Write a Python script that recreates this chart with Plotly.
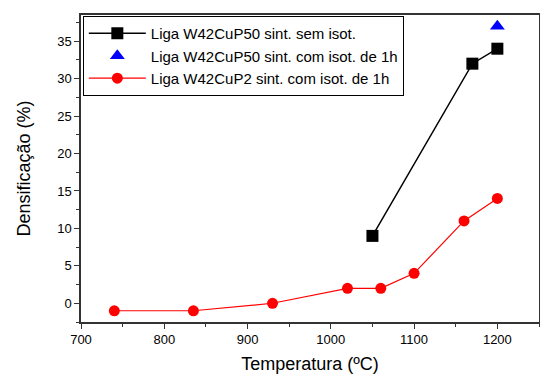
import plotly.graph_objects as go

# Data
black_x = [1050, 1170, 1200]
black_y = [9, 32, 34]
blue_x = [1200]
blue_y = [37]
red_x = [740, 835, 930, 1020, 1060, 1100, 1160, 1200]
red_y = [-1, -1, 0, 2, 2, 4, 11, 14]

names = ["Liga W42CuP50 sint. sem isot.",
         "Liga W42CuP50 sint. com isot. de 1h",
         "Liga W42CuP2 sint. com isot. de 1h"]

x_ticks = [700, 800, 900, 1000, 1100, 1200]
y_ticks = [0, 5, 10, 15, 20, 25, 30, 35]

font = "Liberation Sans, Arial, sans-serif"

fig = go.Figure()
fig.add_trace(go.Scatter(x=black_x, y=black_y, mode="lines+markers", name=names[0],
                         line=dict(color="black", width=1.5),
                         marker=dict(symbol="square", size=12, color="black")))
fig.add_trace(go.Scatter(x=blue_x, y=blue_y, mode="markers", name=names[1],
                         marker=dict(symbol="triangle-up", size=13, color="blue")))
fig.add_trace(go.Scatter(x=red_x, y=red_y, mode="lines+markers", name=names[2],
                         line=dict(color="red", width=1.2),
                         marker=dict(symbol="circle", size=11, color="red")))

axis_common = dict(showgrid=False, zeroline=False, showline=True, linecolor="#333",
                   linewidth=1.5, mirror=True, ticks="outside", ticklen=5,
                   tickwidth=1.2, tickcolor="#333", automargin=False,
                   tickfont=dict(family=font, size=13, color="black"))

fig.update_xaxes(range=[700, 1250], tickvals=x_ticks,
                 minor=dict(ticks="outside", ticklen=3, tickcolor="#333", dtick=50, tick0=700),
                 title=dict(text="Temperatura (ºC)", font=dict(family=font, size=18, color="black"), standoff=14),
                 **axis_common)
fig.update_yaxes(range=[-2.5, 38.5], tickvals=y_ticks,
                 minor=dict(ticks="outside", ticklen=3, tickcolor="#333", dtick=2.5, tick0=0),
                 title=dict(text="Densificação (%)", font=dict(family=font, size=18, color="black"), standoff=22),
                 **axis_common)

fig.update_layout(
    width=540, height=374,
    margin=dict(l=81, r=1, t=15, b=52, autoexpand=False),
    plot_bgcolor="white", paper_bgcolor="white",
    font=dict(family=font, size=13, color="black"),
    legend=dict(x=0.004, y=0.997, xanchor="left", yanchor="top",
                bgcolor="white", bordercolor="black", borderwidth=1,
                font=dict(family=font, size=15, color="black"),
                tracegroupgap=0, itemwidth=57),
    showlegend=True,
)

fig.write_html("out.html", config={"displayModeBar": False})
with open("out.html", "r", encoding="utf-8") as f:
    html = f.read()
html = html.replace("<body>", '<body style="margin:0;padding:0">', 1)
with open("out.html", "w", encoding="utf-8") as f:
    f.write(html)
